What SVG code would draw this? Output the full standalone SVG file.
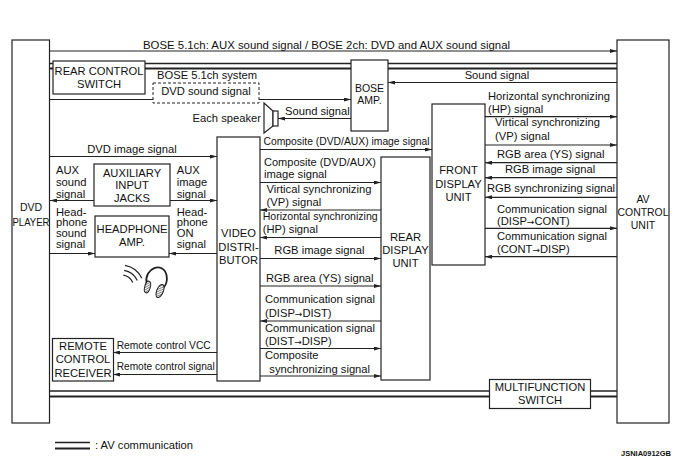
<svg xmlns="http://www.w3.org/2000/svg" width="681" height="466" viewBox="0 0 681 466">
<style>
text { font-family: "Liberation Sans", Arial, Helvetica, sans-serif; font-size: 11.2px; fill: #111; }
.m { text-anchor: middle; }
.e { text-anchor: end; }
.ar { font-family: "DejaVu Sans", sans-serif; font-size: 9px; }
.box { fill: #fff; stroke: #222; stroke-width: 1.2; }
.dash { fill: #fff; stroke: #222; stroke-width: 1; stroke-dasharray: 3 2; }
.ln { stroke: #222; stroke-width: 1.2; fill: none; marker-end: url(#ah); }
.bus1 { stroke: #222; stroke-width: 1.5; fill: none; }
.bus2 { stroke: #222; stroke-width: 2; fill: none; }
.ic { stroke: #222; stroke-width: 1.2; fill: none; }
</style>
<defs>
<marker id="ah" viewBox="0 0 7 4" markerWidth="7" markerHeight="4" refX="7" refY="2" orient="auto" markerUnits="userSpaceOnUse">
<path d="M0,0 L7,2 L0,4 z" fill="#222"/>
</marker>
<pattern id="hatch" width="2" height="2" patternUnits="userSpaceOnUse" patternTransform="rotate(45)">
<rect width="2" height="2" fill="#fff"/>
<line x1="0" y1="0" x2="0" y2="2" stroke="#333" stroke-width="1.2"/>
</pattern>
</defs>
<rect width="681" height="466" fill="#fff"/>

<g id="connectors">
<!-- AV communication buses -->
<line class="bus1" x1="50" y1="63.5" x2="617" y2="63.5"/>
<line class="bus2" x1="50" y1="68.5" x2="617" y2="68.5"/>
<line class="bus1" x1="50" y1="391" x2="617" y2="391"/>
<line class="bus2" x1="50" y1="396.5" x2="617" y2="396.5"/>

<line class="ln" x1="50" y1="51" x2="617" y2="51"/>
<line class="ln" x1="617" y1="82.5" x2="388" y2="82.5"/>
<line class="ln" x1="50" y1="99.5" x2="351" y2="99.5"/>
<line class="ln" x1="351" y1="118.5" x2="278" y2="118.5"/>
<line class="ln" x1="260" y1="149.5" x2="432" y2="149.5"/>
<line class="ln" x1="50" y1="156.5" x2="217" y2="156.5"/>
<line class="ln" x1="94" y1="200.5" x2="50" y2="200.5"/>
<line class="ln" x1="170" y1="200.5" x2="217" y2="200.5"/>
<line class="ln" x1="50" y1="253.5" x2="95" y2="253.5"/>
<line class="ln" x1="217" y1="253.5" x2="169" y2="253.5"/>
<line class="ln" x1="217" y1="352.5" x2="113" y2="352.5"/>
<line class="ln" x1="217" y1="374.5" x2="113" y2="374.5"/>

<line class="ln" x1="260" y1="182.5" x2="381" y2="182.5"/>
<line class="ln" x1="381" y1="210" x2="260" y2="210"/>
<line class="ln" x1="381" y1="237.5" x2="260" y2="237.5"/>
<line class="ln" x1="260" y1="258.5" x2="381" y2="258.5"/>
<line class="ln" x1="260" y1="286" x2="381" y2="286"/>
<line class="ln" x1="381" y1="321" x2="260" y2="321"/>
<line class="ln" x1="260" y1="348.5" x2="381" y2="348.5"/>
<line class="ln" x1="260" y1="376" x2="381" y2="376"/>

<line class="ln" x1="485" y1="116.7" x2="617" y2="116.7"/>
<line class="ln" x1="485" y1="145" x2="617" y2="145"/>
<line class="ln" x1="617" y1="162.7" x2="485" y2="162.7"/>
<line class="ln" x1="617" y1="177.7" x2="485" y2="177.7"/>
<line class="ln" x1="617" y1="197.3" x2="485" y2="197.3"/>
<line class="ln" x1="485" y1="228.3" x2="617" y2="228.3"/>
<line class="ln" x1="617" y1="256.7" x2="485" y2="256.7"/>

<!-- connector labels -->
<text x="143" y="48.5" textLength="367" lengthAdjust="spacingAndGlyphs">BOSE 5.1ch: AUX sound signal / BOSE 2ch: DVD and AUX sound signal</text>
<text x="157" y="79">BOSE 5.1ch system</text>
<text class="m" x="497" y="78.5">Sound signal</text>
<text class="e" x="261" y="121.5">Each speaker</text>
<text x="285" y="114.5">Sound signal</text>
<text class="m" x="132" y="153">DVD image signal</text>
<text x="263.5" y="145" textLength="166" lengthAdjust="spacingAndGlyphs">Composite (DVD/AUX) image signal</text>

<text x="56" y="174">AUX</text>
<text x="56" y="186">sound</text>
<text x="56" y="197.5">signal</text>
<text x="176.7" y="174">AUX</text>
<text x="176.7" y="186">image</text>
<text x="176.7" y="197.5">signal</text>
<text x="56" y="215.5">Head-</text>
<text x="56" y="226">phone</text>
<text x="56" y="236.8">sound</text>
<text x="56" y="247.5">signal</text>
<text x="176.7" y="215.5">Head-</text>
<text x="176.7" y="226">phone</text>
<text x="176.7" y="236.8">ON</text>
<text x="176.7" y="247.5">signal</text>
<text x="116.7" y="349" textLength="94" lengthAdjust="spacingAndGlyphs">Remote control VCC</text>
<text x="116.7" y="369.5" textLength="98" lengthAdjust="spacingAndGlyphs">Remote control signal</text>

<text x="264" y="166" textLength="112" lengthAdjust="spacingAndGlyphs">Composite (DVD/AUX)</text>
<text x="264" y="177.5">image signal</text>
<text x="266.5" y="193">Virtical synchronizing</text>
<text x="266.5" y="206">(VP) signal</text>
<text x="262.7" y="220" textLength="115" lengthAdjust="spacingAndGlyphs">Horizontal synchronizing</text>
<text x="262.7" y="233.3">(HP) signal</text>
<text x="274.3" y="254.3">RGB image signal</text>
<text x="266" y="281.7">RGB area (YS) signal</text>
<text x="265" y="302.7">Communication signal</text>
<text x="265" y="316.7">(DISP<tspan class="ar">→</tspan>DIST)</text>
<text x="265" y="331.7">Communication signal</text>
<text x="265" y="345">(DIST<tspan class="ar">→</tspan>DISP)</text>
<text x="265" y="359.3">Composite</text>
<text x="269.3" y="372.7">synchronizing signal</text>

<text x="488" y="99.7">Horizontal synchronizing</text>
<text x="488" y="113">(HP) signal</text>
<text x="495" y="125.7">Virtical synchronizing</text>
<text x="495" y="139.7">(VP) signal</text>
<text x="497" y="158.3">RGB area (YS) signal</text>
<text x="505" y="172.7">RGB image signal</text>
<text x="487" y="191.7">RGB synchronizing signal</text>
<text x="497" y="212.5">Communication signal</text>
<text x="497" y="225">(DISP<tspan class="ar">→</tspan>CONT)</text>
<text x="497" y="240">Communication signal</text>
<text x="497" y="253">(CONT<tspan class="ar">→</tspan>DISP)</text>
</g>

<g id="dvd-player">
<rect class="box" x="12" y="40" width="37.5" height="383"/>
<text class="m" x="31" y="211" style="font-size:10.5px">DVD</text>
<text x="12.5" y="225.5" style="font-size:10.5px" textLength="37" lengthAdjust="spacingAndGlyphs">PLAYER</text>
</g>

<g id="av-control-unit">
<rect class="box" x="617" y="40" width="52" height="383"/>
<text class="m" x="643" y="203.3" style="font-size:10.5px">AV</text>
<text x="617.5" y="216" style="font-size:10.5px" textLength="51" lengthAdjust="spacingAndGlyphs">CONTROL</text>
<text class="m" x="643" y="228.5" style="font-size:10.5px">UNIT</text>
</g>

<g id="rear-control-switch">
<rect class="box" x="53" y="61" width="92" height="33"/>
<text class="m" x="99" y="75">REAR CONTROL</text>
<text class="m" x="99" y="87.5">SWITCH</text>
</g>

<g id="dvd-sound-signal">
<rect class="dash" x="153" y="83" width="106" height="20"/>
<text class="m" x="206" y="94.5">DVD sound signal</text>
</g>

<g id="bose-amp">
<rect class="box" x="351" y="60" width="37" height="71"/>
<text class="m" x="369.5" y="92" style="font-size:10.5px">BOSE</text>
<text class="m" x="369.5" y="104" style="font-size:10.5px">AMP.</text>
</g>

<g id="speaker">
<polygon class="box" points="264,103 273,111 273,126 264,133"/>
<rect class="box" x="273" y="111" width="5" height="15"/>
</g>

<g id="video-distributor">
<rect class="box" x="217" y="137" width="43" height="244"/>
<text class="m" x="238.5" y="237">VIDEO</text>
<text class="m" x="238.5" y="251">DISTRI-</text>
<text class="m" x="238.5" y="264">BUTOR</text>
</g>

<g id="auxiliary-input-jacks">
<rect class="box" x="94" y="164" width="76" height="42"/>
<text class="m" x="132" y="176.7">AUXILIARY</text>
<text class="m" x="132" y="189">INPUT</text>
<text class="m" x="132" y="201.7">JACKS</text>
</g>

<g id="headphone-amp">
<rect class="box" x="95" y="216" width="74" height="41"/>
<text class="m" x="132" y="233.3">HEADPHONE</text>
<text class="m" x="132" y="246">AMP.</text>
</g>

<g id="headphones">
<path class="ic" d="M123.3,275.2 A13,13 0 0 1 132.8,282.5"/>
<path class="ic" d="M124.1,270.3 A18,18 0 0 1 137.3,280.4"/>
<path class="ic" d="M125,265.4 A23,23 0 0 1 141.8,278.3"/>
<path d="M146.5,283 C144,268 163,261 166.5,275 C167.5,280 166,285 163.5,288" stroke="#222" stroke-width="1.8" fill="none"/>
<ellipse cx="147.5" cy="287" rx="2.8" ry="6" transform="rotate(15 147.5 287)" fill="url(#hatch)" stroke="#222" stroke-width="1"/>
<ellipse cx="160" cy="291" rx="3.3" ry="7" transform="rotate(22 160 291)" fill="url(#hatch)" stroke="#222" stroke-width="1"/>
</g>

<g id="remote-control-receiver">
<rect class="box" x="52.5" y="338.5" width="61" height="42.5"/>
<text class="m" x="83" y="350">REMOTE</text>
<text class="m" x="83" y="363.3">CONTROL</text>
<text class="m" x="83" y="376.7">RECEIVER</text>
</g>

<g id="rear-display-unit">
<rect class="box" x="381" y="157" width="49" height="223"/>
<text class="m" x="405.5" y="241">REAR</text>
<text class="m" x="405.5" y="254">DISPLAY</text>
<text class="m" x="405.5" y="267">UNIT</text>
</g>

<g id="front-display-unit">
<rect class="box" x="432" y="104" width="53" height="161"/>
<text class="m" x="458.5" y="174">FRONT</text>
<text class="m" x="458.5" y="187.5">DISPLAY</text>
<text class="m" x="458.5" y="200.5">UNIT</text>
</g>

<g id="multifunction-switch">
<rect class="box" x="489.5" y="379.5" width="101" height="29"/>
<text class="m" x="540" y="391">MULTIFUNCTION</text>
<text class="m" x="540" y="404">SWITCH</text>
</g>

<g id="legend">
<line class="bus1" x1="55" y1="442.5" x2="90" y2="442.5"/>
<line class="bus2" x1="55" y1="448.5" x2="90" y2="448.5"/>
<text x="95" y="449">: AV communication</text>
<text class="e" x="671" y="455.5" style="font-size:7.5px;font-weight:bold" textLength="50" lengthAdjust="spacingAndGlyphs">JSNIA0912GB</text>
</g>
</svg>
